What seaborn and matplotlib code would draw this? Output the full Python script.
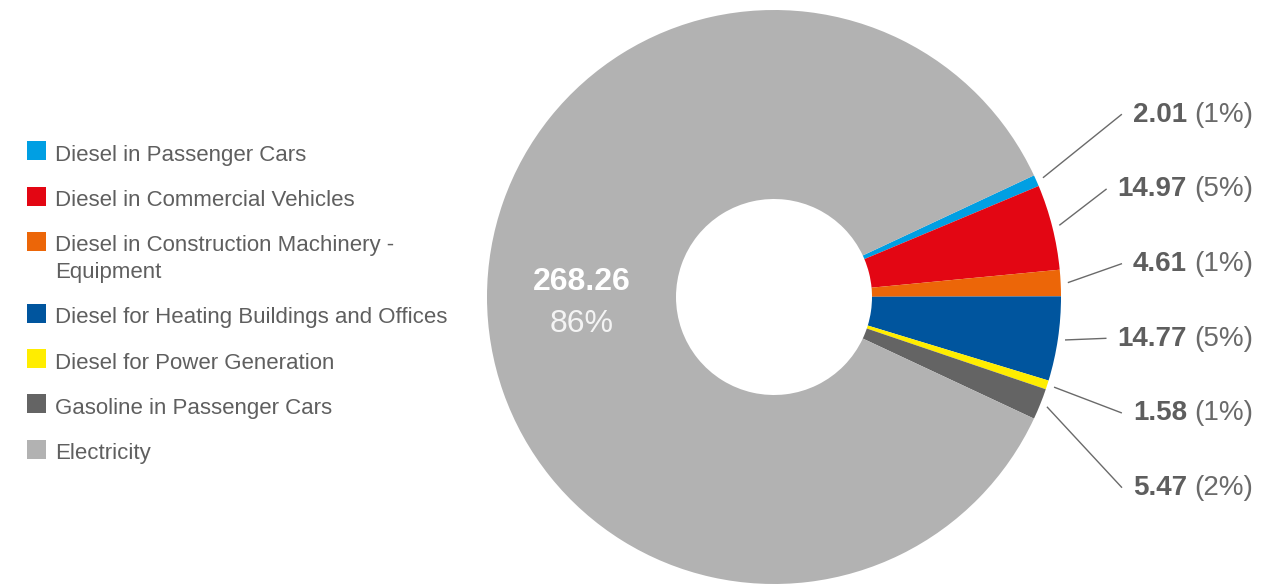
import numpy as np
import matplotlib
matplotlib.use("Agg")
import matplotlib.pyplot as plt
from matplotlib.patches import Rectangle
import seaborn as sns

# CO2 emissions by energy source (tonnes)
categories = [
    "Diesel in Passenger Cars",
    "Diesel in Commercial Vehicles",
    "Diesel in Construction Machinery -\nEquipment",
    "Diesel for Heating Buildings and Offices",
    "Diesel for Power Generation",
    "Gasoline in Passenger Cars",
    "Electricity",
]
values = [2.01, 14.97, 4.61, 14.77, 1.58, 5.47, 268.26]
colors = ["#009fe3", "#e30613", "#ec6608", "#00559e", "#ffed00", "#646464", "#b2b2b2"]

sns.set_theme(style="white")
plt.rcParams["font.family"] = ["Liberation Sans", "DejaVu Sans"]

W, H, DPI = 1288, 585, 100
CX, CY, R = 774, 297, 287      # donut centre and outer radius in pixels
R_IN = 98                      # hole radius in pixels

fig = plt.figure(figsize=(W / DPI, H / DPI), dpi=DPI)
fig.patch.set_facecolor("white")
ax = fig.add_axes([0, 0, 1, 1])


def px(x, y):
    """Pixel position (from top-left) -> data coordinates (1 unit = outer radius)."""
    return ((x - CX) / R, (CY - y) / R)


total = sum(values)
small_span = 360.0 * sum(values[:-1]) / total
wedges, _ = ax.pie(
    values,
    colors=colors,
    startangle=small_span / 2,
    counterclock=False,
    radius=1,
    wedgeprops=dict(width=1 - R_IN / R, linewidth=0),
)

ax.set_xlim((0 - CX) / R, (W - CX) / R)
ax.set_ylim((CY - H) / R, CY / R)
ax.set_aspect("auto")
ax.axis("off")

# legend on the left
legend_color = "#5f5f5f"
base = 160.7
for label, col in zip(categories, colors):
    lines = label.split("\n")
    ax.add_patch(Rectangle(px(27, base - 0.5), 19 / R, 19 / R, facecolor=col, edgecolor="none"))
    for j, line in enumerate(lines):
        ax.text(*px(55, base + 26.7 * j), line, fontsize=16, color=legend_color,
                ha="left", va="baseline")
    base += 45.3 + 26.7 * (len(lines) - 1)

# value labels for the small slices
label_color = "#5e5e5e"
pct_texts = []
baselines = [121.7 + 74.7 * i for i in range(len(values) - 1)]
for v, b in zip(values[:-1], baselines):
    pct = round(v / total * 100)
    t = ax.text(*px(1253, b), f"({pct}%)", fontsize=20, color="#6a6a6a",
                ha="right", va="baseline")
    pct_texts.append(t)

fig.canvas.draw()
renderer = fig.canvas.get_renderer()
inv = ax.transData.inverted()

bold_texts = []
for v, b, t in zip(values[:-1], baselines, pct_texts):
    bb = t.get_window_extent(renderer)
    x_disp = bb.x0 - 7
    x_data = inv.transform((x_disp, 0))[0]
    bt = ax.text(x_data, px(0, b)[1], f"{v:.2f}", fontsize=20, fontweight="bold",
                 color=label_color, ha="right", va="baseline")
    bold_texts.append(bt)

fig.canvas.draw()
for w, b, bt in zip(wedges[:-1], baselines, bold_texts):
    mid = np.deg2rad((w.theta1 + w.theta2) / 2)
    start = (1.025 * np.cos(mid), 1.025 * np.sin(mid))
    bb = bt.get_window_extent(renderer)
    x_end = inv.transform((bb.x0 - 11, 0))[0]
    y_end = px(0, b - 7.5)[1]
    ax.plot([start[0], x_end], [start[1], y_end], color="#6a6a6a", lw=1.0,
            solid_capstyle="butt")

# label inside the large slice
w = wedges[-1]
mid = np.deg2rad((w.theta1 + w.theta2) / 2)
r_mid = (1 + R_IN / R) / 2
pos = (r_mid * np.cos(mid), r_mid * np.sin(mid))
ax.annotate(f"{values[-1]:.2f}", xy=pos, xytext=(0, 7), textcoords="offset pixels",
            fontsize=23, fontweight="bold", color="white", ha="center", va="baseline")
ax.annotate(f"{round(values[-1] / total * 100)}%", xy=pos, xytext=(0, -35),
            textcoords="offset pixels", fontsize=23, color="#f4f4f4",
            ha="center", va="baseline")

fig.savefig("out.png", dpi=DPI, facecolor="white")
